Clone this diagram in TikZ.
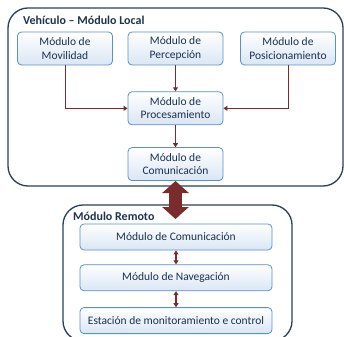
\documentclass[tikz,border=0pt]{standalone}
\usepackage{fontspec}
\setmainfont{Carlito}
\usetikzlibrary{positioning,arrows.meta}
\definecolor{boxline}{HTML}{5B8FC8}
\definecolor{boxfill}{HTML}{D9E6F4}
\definecolor{frameline}{HTML}{2B3F57}
\definecolor{txt}{HTML}{1C3150}
\definecolor{link}{HTML}{7A2B2B}

\begin{document}
\begin{tikzpicture}[x=1pt, y=-1pt,
  node distance=0pt,
  every node/.style = {text=txt, font=\fontsize{11.5}{13.5}\selectfont},
  modbox/.style = {shape=rectangle, rounded corners=4pt,
    draw=boxline, line width=0.8pt, align=center,
    top color=white, bottom color=boxfill,
    minimum width=95pt, minimum height=33pt, inner sep=1pt},
  widebox/.style = {modbox, minimum width=192pt, minimum height=26pt},
  frame/.style = {draw=frameline, line width=1.3pt, rounded corners=20pt},
  title/.style = {anchor=west, inner sep=0pt, font=\fontsize{12}{14}\selectfont\bfseries},
  feed/.style = {draw=link, line width=1pt, -{Triangle[width=5pt,length=4pt]}},
  pair/.style = {draw=link, line width=1.4pt, {Triangle[width=5pt,length=4pt]}-{Triangle[width=5pt,length=4pt]}},
  big/.style = {draw=link, line width=13pt,
    {Triangle[width=26pt,length=12pt]}-{Triangle[width=26pt,length=12pt]}}]
  \useasboundingbox (0,0) rectangle (344,336);

  % vehicle side
  \draw[frame] (8,8) rectangle (343,186);
  \node[title] (local) at (23,20) {Vehículo – Módulo Local};
  \node[modbox] (mov) at (65,48.5) {Módulo de\\Movilidad};
  \node[modbox] (perc) at (175.5,48.5) {Módulo de\\Percepción};
  \node[modbox] (pos) at (288,48.5) {Módulo de\\Posicionamiento};
  \node[modbox, below=26pt of perc] (proc) {Módulo de\\Procesamiento};
  \node[modbox, below=22pt of proc] (com) {Módulo de\\Comunicación};

  \draw[feed] (mov.south) |- (proc.west);
  \draw[feed] (pos.south) |- (proc.east);
  \draw[feed] (perc) -- (proc);
  \draw[feed] (proc) -- (com);

  % remote side
  \draw[frame] (63,205) rectangle (292,341);
  \node[title] (remote) at (73,216) {Módulo Remoto};
  \node[widebox] (rcom) at (176,237) {Módulo de Comunicación};
  \node[widebox, below=14pt of rcom] (nav) {Módulo de Navegación};
  \node[widebox, below=16pt of nav] (est) {Estación de monitoramiento e control};

  \draw[pair] (rcom) -- (nav);
  \draw[pair] (nav) -- (est);

  \coordinate (link) at (175.5,219);
  \draw[big] (com.south) -- (link);
\end{tikzpicture}
\end{document}
